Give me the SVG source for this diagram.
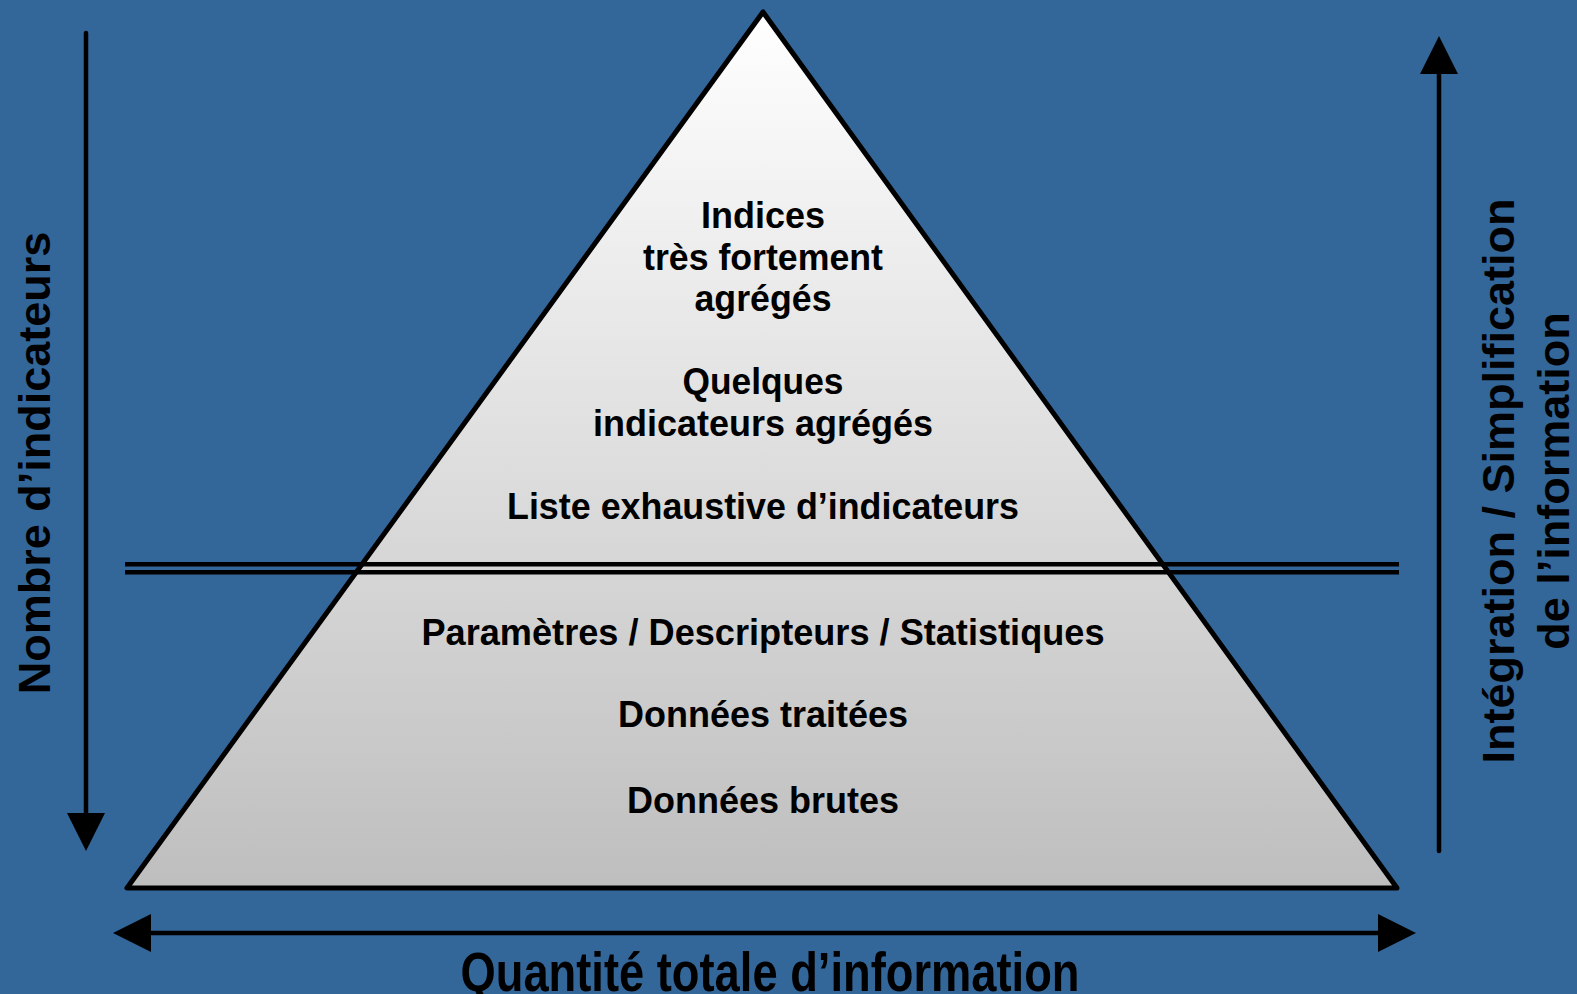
<svg xmlns="http://www.w3.org/2000/svg" width="1577" height="994" viewBox="0 0 1577 994">
<style>
.t{font-family:"Liberation Sans",Arial,sans-serif;font-weight:bold;fill:#000;text-anchor:middle}
.in{font-size:37px}
.side{font-size:45px}
.ln{stroke:#000;stroke-width:4.5;fill:none}
</style>
<defs>
<linearGradient id="g" x1="0" y1="12" x2="0" y2="889" gradientUnits="userSpaceOnUse">
<stop offset="0" stop-color="#ffffff"/>
<stop offset="1" stop-color="#bebebe"/>
</linearGradient>
<marker id="ah" viewBox="0 0 38 38" markerWidth="38" markerHeight="38" markerUnits="userSpaceOnUse" refX="28" refY="19" orient="auto-start-reverse">
<path d="M0,0 L38,19 L0,38 Z" fill="#000"/>
</marker>
</defs>
<rect width="1577" height="994" fill="#336699"/>
<g id="pyramid">
<polygon points="763,12 127,888 1397,888" fill="url(#g)" stroke="#000" stroke-width="5" stroke-linejoin="round"/>
</g>
<g id="connectors">
<line class="ln" x1="125" y1="564.2" x2="1399" y2="564.2" stroke-width="3.8"/>
<line class="ln" x1="125" y1="572.3" x2="1399" y2="572.3" stroke-width="3.8"/>
<line class="ln" x1="86" y1="33" x2="86" y2="841" stroke-linecap="round" marker-end="url(#ah)"/>
<line class="ln" x1="1439" y1="851" x2="1439" y2="46" stroke-linecap="round" marker-end="url(#ah)"/>
<line class="ln" x1="123" y1="933" x2="1406" y2="933" marker-start="url(#ah)" marker-end="url(#ah)"/>
</g>
<g id="level-indices">
<text class="t in" x="763" y="228" textLength="124" lengthAdjust="spacingAndGlyphs">Indices</text>
<text class="t in" x="763" y="270" textLength="240" lengthAdjust="spacingAndGlyphs">très fortement</text>
<text class="t in" x="763" y="311" textLength="137" lengthAdjust="spacingAndGlyphs">agrégés</text>
</g>
<g id="level-quelques">
<text class="t in" x="763" y="394" textLength="161" lengthAdjust="spacingAndGlyphs">Quelques</text>
<text class="t in" x="763" y="436" textLength="340" lengthAdjust="spacingAndGlyphs">indicateurs agrégés</text>
</g>
<g id="level-liste">
<text class="t in" x="763" y="519" textLength="512" lengthAdjust="spacingAndGlyphs">Liste exhaustive d’indicateurs</text>
</g>
<g id="level-parametres">
<text class="t in" x="763" y="645" textLength="683" lengthAdjust="spacingAndGlyphs">Paramètres / Descripteurs / Statistiques</text>
</g>
<g id="level-traitees">
<text class="t in" x="763" y="727" textLength="290" lengthAdjust="spacingAndGlyphs">Données traitées</text>
</g>
<g id="level-brutes">
<text class="t in" x="763" y="813" textLength="272" lengthAdjust="spacingAndGlyphs">Données brutes</text>
</g>
<g id="label-left">
<text class="t side" transform="translate(50,463) rotate(-90)" x="0" y="0">Nombre d’indicateurs</text>
</g>
<g id="label-right">
<text class="t side" transform="translate(1514,481) rotate(-90)" x="0" y="0">Intégration / Simplification</text>
<text class="t side" transform="translate(1514,481) rotate(-90)" x="0" y="55">de l’information</text>
</g>
<g id="label-bottom">
<text class="t" x="770" y="991" font-size="55" textLength="619" lengthAdjust="spacingAndGlyphs">Quantité totale d’information</text>
</g>
</svg>
